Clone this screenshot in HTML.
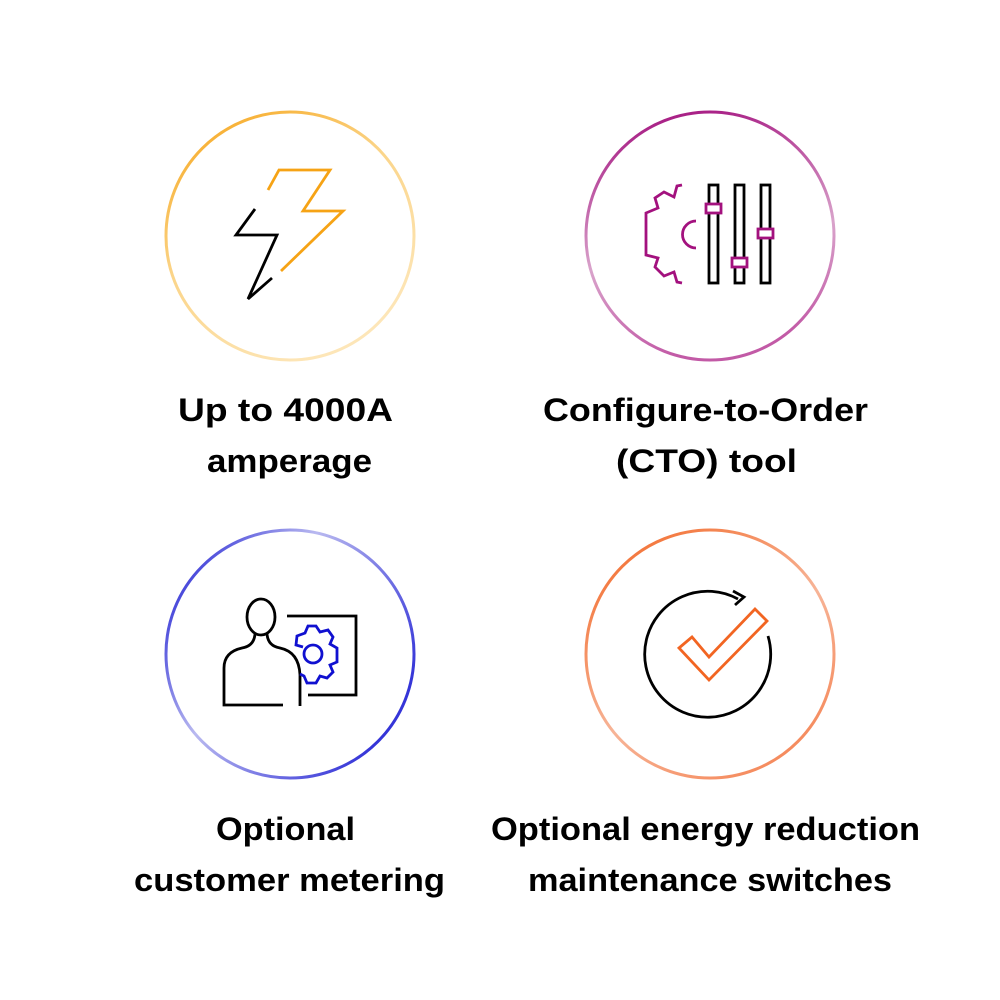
<!DOCTYPE html>
<html><head><style>
body{margin:0;background:#fff;width:1000px;height:1000px;overflow:hidden}
svg{display:block}
text{font-family:"Liberation Sans",sans-serif;font-weight:bold;font-size:32px;fill:#000}
</style></head><body>
<svg width="1000" height="1000" viewBox="0 0 1000 1000">
<defs>
<linearGradient id="g1" x1="0" y1="0" x2="0.6" y2="1"><stop offset="0" stop-color="#f6a315"/><stop offset="0.5" stop-color="#fbd58a"/><stop offset="1" stop-color="#fde6b8"/></linearGradient>
<linearGradient id="g2" x1="0.1" y1="0" x2="0.3" y2="1"><stop offset="0" stop-color="#a3117e"/><stop offset="0.6" stop-color="#d9a3cb"/><stop offset="1" stop-color="#c25aa6"/></linearGradient>
<linearGradient id="g3" x1="0" y1="0" x2="1" y2="0.6"><stop offset="0" stop-color="#1010d0"/><stop offset="0.45" stop-color="#b9b9f0"/><stop offset="1" stop-color="#3535d8"/></linearGradient>
<linearGradient id="g4" x1="0" y1="0" x2="0.7" y2="1"><stop offset="0" stop-color="#f26522"/><stop offset="0.6" stop-color="#f7b497"/><stop offset="1" stop-color="#f58a5c"/></linearGradient>
</defs>
<circle cx="290" cy="236" r="124" fill="none" stroke="url(#g1)" stroke-width="3"/>
<circle cx="710" cy="236" r="124" fill="none" stroke="url(#g2)" stroke-width="3"/>
<circle cx="290" cy="654" r="124" fill="none" stroke="url(#g3)" stroke-width="3"/>
<circle cx="710" cy="654" r="124" fill="none" stroke="url(#g4)" stroke-width="3"/>

<polyline points="255,209 236,235 277,235 248,299 272,278" fill="none" stroke="#000" stroke-width="2.8"/>
<polyline points="268,190 279,170 330,170 303,211 343,211 281,271" fill="none" stroke="#f6a315" stroke-width="2.8"/>

<g fill="none" stroke-width="2.8">
<path d="M682,185 L677,186 L674,197 L664,192 L655,198 L658,208 L646,213 L646,255 L658,258 L655,267 L664,276 L674,272 L677,282 L682,283" stroke="#a3117e"/>
<path d="M696,221 A13,13 0 0 0 696,248" stroke="#a3117e"/>
<rect x="709" y="185" width="9" height="98" stroke="#000"/>
<rect x="735" y="185" width="9" height="98" stroke="#000"/>
<rect x="761" y="185" width="9" height="98" stroke="#000"/>
<rect x="706" y="204" width="15" height="9" fill="#fff" stroke="#a3117e"/>
<rect x="732" y="258" width="15" height="9" fill="#fff" stroke="#a3117e"/>
<rect x="758" y="229" width="15" height="9" fill="#fff" stroke="#a3117e"/>
</g>

<g fill="none" stroke-width="2.8">
<ellipse cx="261" cy="617" rx="14" ry="18" stroke="#000"/>
<path d="M255,634 Q254,646 242,648 Q224,652 224,668 L224,705 L283,705" stroke="#000"/>
<path d="M267,634 Q268,646 280,648 Q299,652 300,675 L300,706" stroke="#000"/>
<polyline points="287,616 356,616 356,695 308,695" stroke="#000"/>
<path d="M303,647 L296,645 L297,636 L305,633 L308,626 L316,626 L320,632 L328,630 L333,637 L330,644 L337,648 L337,662 L330,665 L333,672 L327,678 L320,676 L316,683 L307,683 L304,676 L300,674" stroke="#1010d0"/>
<circle cx="313" cy="654" r="9" stroke="#1010d0"/>
</g>

<g fill="none" stroke-width="2.8">
<path d="M738,599 A63,63 0 1 0 768,636" stroke="#000"/>
<polyline points="733,591 744,597 735,605" stroke="#000"/>
<polygon points="679,648 692,637 709,657 755,609 767,621 709,680" stroke="#f26522"/>
</g>

<text x="178" y="421" textLength="215" lengthAdjust="spacingAndGlyphs">Up to 4000A</text>
<text x="207" y="472" textLength="165" lengthAdjust="spacingAndGlyphs">amperage</text>
<text x="543" y="421" textLength="325" lengthAdjust="spacingAndGlyphs">Configure-to-Order</text>
<text x="616" y="472" textLength="181" lengthAdjust="spacingAndGlyphs">(CTO) tool</text>
<text x="216" y="840" textLength="139" lengthAdjust="spacingAndGlyphs">Optional</text>
<text x="134" y="891" textLength="311" lengthAdjust="spacingAndGlyphs">customer metering</text>
<text x="491" y="840" textLength="429" lengthAdjust="spacingAndGlyphs">Optional energy reduction</text>
<text x="528" y="891" textLength="364" lengthAdjust="spacingAndGlyphs">maintenance switches</text>
</svg>
</body></html>
